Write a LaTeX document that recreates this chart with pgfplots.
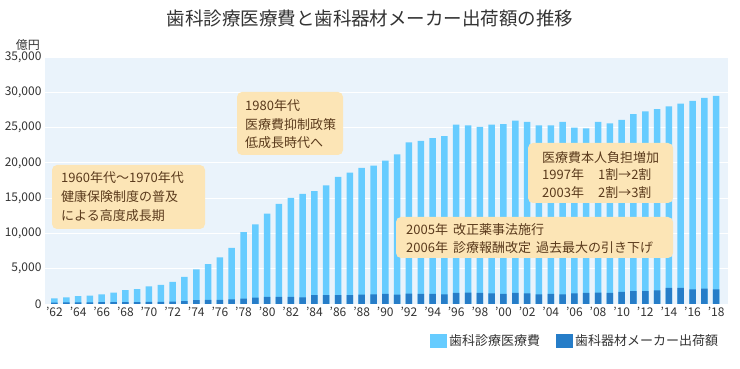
\documentclass[border=0pt]{standalone}
\usepackage{pgfplots}
\pgfplotsset{compat=1.18}
\usepackage{fontspec}
\setmainfont{Noto Sans CJK JP}
\definecolor{light}{RGB}{102,204,255}
\definecolor{dark}{RGB}{38,125,200}
\definecolor{bg}{RGB}{234,243,251}
\definecolor{boxc}{RGB}{252,229,182}
\definecolor{txt}{RGB}{51,51,51}
\definecolor{brn}{RGB}{90,58,28}
\begin{document}
\begin{tikzpicture}
\path[use as bounding box] (0pt,0pt) rectangle (740pt,369pt);
\begin{axis}[
  at={(45pt,65pt)}, anchor=south west,
  scale only axis, width=683pt, height=247pt,
  xmin=1961.2, xmax=2019, ymin=0, ymax=35000,
  ytick={0,5000,...,35000},
  axis background/.style={fill=bg},
  axis line style={draw=none},
  major tick length=0pt,
  ymajorgrids, grid style={white, line width=0.8pt},
  xtick={1962,1964,...,2018},
  xticklabels={'62,'64,'66,'68,'70,'72,'74,'76,'78,'80,'82,'84,'86,'88,'90,'92,'94,'96,'98,'00,'02,'04,'06,'08,'10,'12,'14,'16,'18},
  /pgf/number format/assume math mode=true,
  scaled y ticks=false,
  yticklabel style={font=\fontsize{12}{14}\selectfont, text=txt, /pgf/number format/1000 sep={,}},
  xticklabel style={font=\fontsize{12}{14}\selectfont, text=txt},
  legend style={at={(0.993,-0.15)}, anchor=east, draw=none, fill=none, legend columns=2,
    font=\fontsize{13}{15}\selectfont, text=txt,
    /tikz/every even column/.append style={column sep=14pt}},
  legend image code/.code={\fill[#1] (0pt,-7pt) rectangle (17pt,7pt);},
]
\addplot[ybar, bar width=6.5pt, bar shift=0pt, fill=light, draw=none] coordinates {
(1962,800) (1963,950) (1964,1100) (1965,1200) (1966,1350) (1967,1600) (1968,1950) (1969,2100)
(1970,2500) (1971,2700) (1972,3150) (1973,3850) (1974,4900) (1975,5650) (1976,6600) (1977,7950)
(1978,10200) (1979,11300) (1980,12800) (1981,14200) (1982,15050) (1983,15600) (1984,16000)
(1985,16800) (1986,18000) (1987,18600) (1988,19300) (1989,19600) (1990,20300) (1991,21200)
(1992,22900) (1993,23100) (1994,23500) (1995,23800) (1996,25400) (1997,25300) (1998,25100)
(1999,25400) (2000,25500) (2001,26000) (2002,25800) (2003,25300) (2004,25300) (2005,25800)
(2006,25000) (2007,24900) (2008,25800) (2009,25600) (2010,26100) (2011,26900) (2012,27300)
(2013,27600) (2014,28000) (2015,28400) (2016,28800) (2017,29200) (2018,29500)};
\addlegendentry{歯科診療医療費}
\addplot[ybar, bar width=6.5pt, bar shift=0pt, fill=dark, draw=none] coordinates {
(1962,200) (1963,220) (1964,230) (1965,240) (1966,250) (1967,260) (1968,270) (1969,280)
(1970,290) (1971,300) (1972,330) (1973,400) (1974,550) (1975,580) (1976,600) (1977,650)
(1978,750) (1979,900) (1980,1000) (1981,1000) (1982,1000) (1983,950) (1984,1270) (1985,1270)
(1986,1270) (1987,1270) (1988,1320) (1989,1370) (1990,1420) (1991,1320) (1992,1460) (1993,1420)
(1994,1420) (1995,1370) (1996,1560) (1997,1600) (1998,1560) (1999,1510) (2000,1420) (2001,1560)
(2002,1510) (2003,1370) (2004,1420) (2005,1370) (2006,1510) (2007,1560) (2008,1600) (2009,1560)
(2010,1700) (2011,1840) (2012,1840) (2013,1930) (2014,2270) (2015,2270) (2016,2080) (2017,2170)
(2018,2080)};
\addlegendentry{歯科器材メーカー出荷額}
\end{axis}
% title and unit
\node[text=txt, font=\fontsize{18.5}{20}\selectfont] at (370pt,351pt) {歯科診療医療費と歯科器材メーカー出荷額の推移};
\node[text=txt, font=\fontsize{12}{14}\selectfont] at (28pt,324pt) {億円};
% annotation boxes
\tikzset{ann/.style={anchor=west, text=brn, inner sep=0pt, font=\fontsize{13}{15}\selectfont}}
\fill[boxc, rounded corners=5pt] (52pt,204pt) rectangle (205pt,140pt);
\node[ann] at (61pt,191pt) {1960年代〜1970年代};
\node[ann] at (61pt,172pt) {健康保険制度の普及};
\node[ann] at (61pt,153pt) {による高度成長期};
\fill[boxc, rounded corners=5pt] (237pt,277pt) rectangle (343pt,214pt);
\node[ann] at (245pt,263pt) {1980年代};
\node[ann] at (245pt,244pt) {医療費抑制政策};
\node[ann] at (245pt,226pt) {低成長時代へ};
\fill[boxc, rounded corners=5pt] (528pt,226pt) rectangle (673pt,166pt);
\node[ann] at (542pt,211pt) {医療費本人負担増加};
\node[ann] at (542pt,194pt) {1997年\hspace{14pt}1割→2割};
\node[ann] at (542pt,176pt) {2003年\hspace{14pt}2割→3割};
\fill[boxc, rounded corners=5pt] (396pt,152pt) rectangle (673pt,111pt);
\node[ann] at (406pt,139pt) {2005年\hspace{5pt}改正薬事法施行};
\node[ann] at (406pt,121pt) {2006年\hspace{5pt}診療報酬改定\hspace{5pt}過去最大の引き下げ};
\end{tikzpicture}
\end{document}
